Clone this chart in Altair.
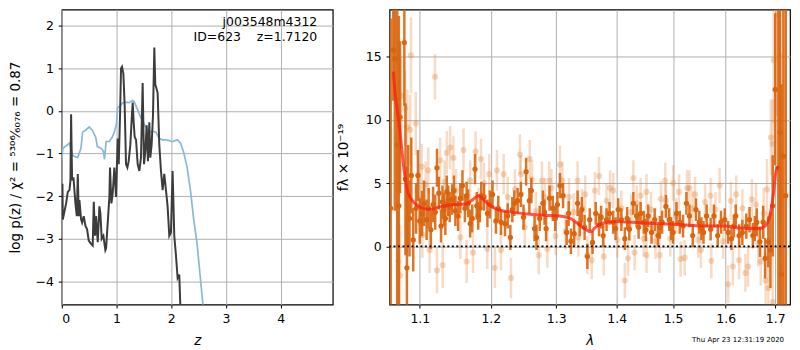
import altair as alt
import pandas as pd

# ---------------- left panel: log p(z) ----------------
blue_z = [0.0, 0.02, 0.08, 0.14, 0.2, 0.29, 0.35, 0.38, 0.44, 0.5, 0.56, 0.62, 0.65, 0.72, 0.76, 0.78,
          0.81, 0.87, 0.92, 0.96, 1.0, 1.02, 1.06, 1.11, 1.17, 1.23, 1.29, 1.32, 1.38, 1.44, 1.5, 1.55,
          1.6, 1.66, 1.72, 1.78, 1.84, 1.9, 1.96, 2.02, 2.07, 2.11, 2.17, 2.23, 2.29, 2.35, 2.41, 2.47,
          2.53, 2.59]
blue_v = [-1.15, -0.88, -0.82, -0.76, -1.05, -1.1, -0.88, -0.5, -0.45, -0.38, -0.46, -0.62, -0.84, -0.88,
          -0.95, -1.14, -0.72, -0.72, -0.62, -0.5, -0.3, 0.08, 0.1, 0.19, 0.2, 0.19, 0.24, 0.22, 0.04,
          -0.15, -0.3, -0.42, -0.5, -0.48, -0.5, -0.65, -0.68, -0.68, -0.7, -0.72, -0.7, -0.68, -0.76,
          -0.99, -1.33, -1.86, -2.55, -3.1, -3.9, -4.7]

dark_z = [0.012, 0.018, 0.079, 0.109, 0.140, 0.158, 0.170, 0.188, 0.213, 0.249, 0.274, 0.292, 0.310,
          0.322, 0.353, 0.371, 0.401, 0.432, 0.462, 0.492, 0.535, 0.565, 0.584, 0.608, 0.626, 0.657,
          0.687, 0.705, 0.729, 0.760, 0.796, 0.809, 0.839, 0.869, 0.881, 0.906, 0.930, 0.960, 0.991,
          1.021, 1.040, 1.064, 1.082, 1.100, 1.125, 1.149, 1.173, 1.198, 1.222, 1.252, 1.277, 1.295,
          1.313, 1.331, 1.356, 1.386, 1.416, 1.447, 1.477, 1.502, 1.526, 1.550, 1.574, 1.599, 1.617,
          1.641, 1.666, 1.690, 1.708, 1.720, 1.751, 1.781, 1.812, 1.842, 1.872, 1.903, 1.933, 1.964,
          1.994, 2.024, 2.055, 2.085, 2.116, 2.146, 2.164, 2.18]
dark_v = [-1.71, -2.55, -2.17, -1.90, -1.86, -1.63, -0.08, -1.63, -1.56, -2.17, -2.47, -1.48, -2.47,
          -2.09, -2.55, -2.62, -2.47, -2.70, -2.78, -3.04, -3.12, -3.16, -2.13, -2.93, -2.47, -3.08,
          -2.24, -2.40, -3.00, -2.93, -3.27, -3.23, -2.62, -2.02, -1.33, -2.17, -1.94, -1.33, -2.02,
          -0.65, -1.25, -0.11, 0.99, 1.03, 0.87, 0.11, -1.25, -1.33, -1.18, -0.80, -0.19, 0.19, -0.27,
          -0.61, -0.68, -1.25, -1.41, -1.10, 0.65, -1.25, -0.95, -0.34, -1.18, -0.27, -1.10, -0.80,
          -0.11, 1.48, 0.61, 0.57, 0.42, -0.80, -1.41, -1.86, -1.48, -1.86, -2.24, -2.93, -2.85, -1.41,
          -2.93, -3.38, -3.92, -3.84, -4.52, -5.3]

ann_z = [4.667, 4.667]
ann_v = [2.09, 1.74]
ann_text = ["j003548m4312", "ID=623\u00a0\u00a0\u00a0\u00a0z=1.7120"]

# ---------------- right panel: spectrum ----------------
dk_lam = [1.0615, 1.0649, 1.0669, 1.0700, 1.0721, 1.0737, 1.0794, 1.0809, 1.0828, 1.0845, 1.0862,
          1.0886, 1.0912, 1.0950, 1.0975, 1.1000, 1.1030, 1.1057, 1.1092, 1.1120, 1.1150, 1.1180,
          1.1210, 1.1234, 1.1260, 1.1290, 1.1310, 1.1330, 1.1350, 1.1370, 1.1390, 1.1410, 1.1445,
          1.1470, 1.1490, 1.1528, 1.1560, 1.1590, 1.1625, 1.1650, 1.1672, 1.1700, 1.1730, 1.1770,
          1.1795, 1.1815, 1.1840, 1.1860, 1.1900, 1.1950, 1.1985,
          1.2025, 1.2075, 1.2110, 1.2150, 1.2210, 1.2250, 1.2290, 1.2320, 1.2350, 1.2400, 1.2450,
          1.2490, 1.2530, 1.2580, 1.2610, 1.2660, 1.2690, 1.2740, 1.2790, 1.2815, 1.2840, 1.2895,
          1.2946, 1.2985, 1.3020, 1.3060, 1.3110, 1.3168, 1.3200, 1.3237, 1.3290, 1.3345, 1.3380,
          1.3415, 1.3460, 1.3506, 1.3545,
          1.3592, 1.3645, 1.3700, 1.3735, 1.3770, 1.3827, 1.3877, 1.3940, 1.3980, 1.4025, 1.4080,
          1.4140, 1.4180, 1.4218, 1.4288, 1.4346, 1.4380, 1.4416, 1.4474, 1.4510, 1.4550, 1.4610,
          1.4667, 1.4726, 1.4760, 1.4800, 1.4870, 1.4930, 1.4965, 1.5000, 1.5063, 1.5124, 1.5185,
          1.5248,
          1.5304, 1.5366, 1.5427, 1.5490, 1.5530, 1.5570, 1.5630, 1.5707, 1.5770, 1.5844, 1.5907,
          1.5980, 1.6047, 1.6112, 1.6160, 1.6197, 1.6264, 1.6329, 1.6408, 1.6473, 1.6540, 1.6580,
          1.6619, 1.6684, 1.6750, 1.6790, 1.6856, 1.6900, 1.6947, 1.7000, 1.7065, 1.7100, 1.7130,
          1.7170, 1.7220]
dk_f = [3.0, 15.5, 14.8, 8.0, 3.2, 10.2, 16.1, 5.3, -1.7, 4.0, 2.2,
        5.6, 0.5, 3.0, 5.6, 2.0, 2.6, 3.4, 2.1, 3.0, 1.3, 3.3,
        2.7, 6.2, 4.2, 1.6, 3.5, 2.9, 2.2, 4.3, 3.6, 3.1, 3.7,
        4.4, 2.8, 2.4, 3.8, 4.8, 3.0, 4.0, 3.4, 1.8, 2.2, 6.1,
        3.2, 2.4, 3.0, 4.0, 3.9, 2.6, 3.3,
        4.1, 2.0, 3.0, 1.9, 1.8, 2.4, 0.7, 2.9, 3.4, 3.6, 4.1,
        2.3, 5.9, 3.6, 4.4, 1.4, 0.7, 2.2, 3.4, 2.7, 1.4, 3.8,
        3.0, 2.2, 3.3, 4.8, 4.0, 1.1, 2.6, 0.4, 1.0, 3.4, 1.8,
        2.9, 1.5, -0.8, 2.1,
        0.3, 2.6, 1.7, 2.3, 0.85, 2.1, 2.6, 1.9, 1.4, 2.9, 2.1,
        0.6, 2.2, 1.35, 3.4, 2.4, 1.5, 2.6, 1.9, 1.3, 2.4, 1.1,
        2.1, 0.85, 1.5, 1.9, 3.15, 2.1, 1.4, 1.1, 2.6, 1.9, 1.6,
        3.4,
        2.4, 0.85, 2.9, 1.9, 1.4, 1.1, 2.4, 1.35, 2.4, 0.85, 1.9,
        2.1, 1.1, 0.6, 1.6, 2.4, 0.85, 1.1, 1.6, 2.1, 0.85, 1.4,
        1.9, 0.35, 1.9, -0.95, 0.35, -0.3, 3.2, 12.4, 6.2, 9.0, -2.2,
        7.1, 4.0]
dk_err = [15.0, 4.0, 12.0, 15.0, 15.0, 6.0, 5.0, 6.0, 8.0, 4.0, 3.0,
          3.0, 2.5, 2.0, 2.0, 1.8, 1.8, 1.8, 1.6, 1.6, 1.5, 1.4,
          1.4, 1.5, 1.3, 1.3, 1.3, 1.3, 1.3, 1.3, 1.2, 1.2, 1.2,
          1.2, 1.2, 1.2, 1.2, 1.2, 1.1, 1.1, 1.1, 1.1, 1.1, 1.2,
          1.1, 1.1, 1.1, 1.1, 1.1, 1.1, 1.1,
          1.1, 1.0, 1.0, 1.0, 1.0, 1.0, 1.0, 1.0, 1.0, 1.0, 1.0,
          1.0, 1.1, 1.0, 1.0, 1.0, 1.0, 1.0, 1.0, 1.0, 1.0, 1.0,
          1.0, 1.0, 1.0, 1.0, 1.0, 1.0, 1.0, 1.0, 1.0, 1.0, 1.0,
          1.0, 1.0, 1.0, 0.9,
          0.9, 0.9, 0.9, 0.9, 0.9, 0.9, 0.9, 0.9, 0.9, 0.9, 0.9,
          0.9, 0.9, 0.9, 0.9, 0.9, 0.9, 0.9, 0.9, 0.9, 0.9, 0.9,
          0.9, 0.9, 0.9, 0.9, 0.9, 0.9, 0.9, 0.9, 0.9, 0.9, 0.9,
          0.9,
          0.9, 0.9, 0.9, 0.9, 0.9, 0.9, 0.9, 0.9, 0.9, 0.9, 0.9,
          0.9, 0.9, 0.9, 0.9, 0.9, 0.9, 1.0, 1.0, 1.0, 1.0, 1.0,
          1.1, 1.2, 1.3, 1.6, 2.0, 3.0, 4.0, 6.0, 15.0, 15.0, 15.0,
          15.0, 15.0]

lt_lam = [1.0700, 1.0717, 1.0737, 1.0753, 1.0806, 1.0834, 1.0872, 1.0882, 1.0946, 1.0990,
          1.1026, 1.1035, 1.1080, 1.1115, 1.1133, 1.1207, 1.1234, 1.1278, 1.1313, 1.1340, 1.1371,
          1.1417, 1.1462, 1.1500, 1.1560, 1.1605, 1.1650, 1.1700, 1.1741, 1.1778, 1.1820, 1.1856,
          1.1900, 1.1948, 1.1975, 1.2060, 1.2090, 1.2150, 1.2190, 1.2250, 1.2300, 1.2360, 1.2435,
          1.2450, 1.2510, 1.2585, 1.2620, 1.2680, 1.2725, 1.2775, 1.2820, 1.2860, 1.2890, 1.2925,
          1.2990, 1.3060, 1.3100, 1.3150, 1.3205, 1.3280, 1.3345, 1.3360, 1.3420, 1.3470, 1.3506,
          1.3577, 1.3630, 1.3700, 1.3780, 1.3827, 1.3887, 1.3940, 1.4010, 1.4080, 1.4140, 1.4195,
          1.4250, 1.4288, 1.4310, 1.4346, 1.4416, 1.4470, 1.4520, 1.4520, 1.4600, 1.4680, 1.4755,
          1.4780, 1.4857, 1.4870, 1.4950, 1.5000, 1.5060, 1.5110, 1.5140, 1.5215, 1.5260, 1.5304,
          1.5360, 1.5410, 1.5470, 1.5520, 1.5600, 1.5707, 1.5720, 1.5800, 1.5880, 1.5950, 1.6047,
          1.6100, 1.6140, 1.6205, 1.6264, 1.6330, 1.6390, 1.6443, 1.6520, 1.6606, 1.6650, 1.6700,
          1.6760, 1.6800, 1.6830, 1.6856, 1.6910, 1.6947, 1.6947, 1.6966, 1.7032, 1.7097, 1.7120]
lt_f = [10.5, -1.2, -2.3, 11.9, 10.9, 9.4, 9.2, 15.1, 9.7, 3.8,
        6.3, 0.9, 4.9, 6.0, -0.3, 13.4, -1.9, 6.8, -1.5, 5.1, 7.4,
        7.8, 7.0, 4.4, 0.7, 7.6, -1.2, 5.2, -0.5, 7.5, 3.0, 6.9,
        5.0, -0.2, 5.7, -1.7, 6.0, -0.3, 5.7, 3.9, -2.5, 4.5, 7.25,
        5.7, 1.5, 6.9, 5.3, 2.8, -0.7, 5.2, 3.9, -0.2, 5.2, 4.6,
        0.8, 6.45, 5.2, 1.2, 3.9, 2.7, 5.2, 0.7, 3.0, 4.1, -0.7,
        -1.1, 4.4, 5.55, -0.8, 3.6, 4.6, 4.4, 0.5, 3.0, -2.7, -0.95,
        2.7, 5.4, -0.5, 3.4, 4.0, 0.6, 4.3, -0.7, 2.9, 0.4, -0.7,
        3.75, 5.2, 3.6, 0.6, 5.0, 2.4, 4.3, -1.0, -0.9, 4.6, 4.6,
        3.0, 4.1, 0.5, -0.3, 3.5, 4.0, -1.15, 2.9, 4.8, 0.4, -3.0,
        3.6, -1.6, 4.1, -1.1, 3.0, -2.1, -1.6, 3.7, 3.3, 0.2, -1.2,
        2.6, -2.7, 4.5, -3.3, 8.6, 8.1, -4.4, 14.7, 18.3, 9.8, 7.3]
lt_err = [6.0, 4.0, 4.0, 3.0, 3.0, 3.0, 2.8, 3.0, 2.5, 2.2,
          1.8, 1.8, 1.8, 1.8, 1.8, 1.8, 1.8, 1.8, 1.8, 1.7, 1.7,
          1.7, 1.7, 1.7, 1.7, 1.7, 1.7, 1.6, 1.6, 1.6, 1.6, 1.6,
          1.6, 1.6, 1.6, 1.6, 1.6, 1.6, 1.6, 1.6, 1.6, 1.6, 1.6,
          1.5, 1.5, 1.5, 1.5, 1.5, 1.5, 1.5, 1.5, 1.5, 1.5, 1.5,
          1.5, 1.5, 1.5, 1.5, 1.5, 1.5, 1.5, 1.5, 1.5, 1.5, 1.5,
          1.5, 1.5, 1.5, 1.5, 1.4, 1.4, 1.4, 1.4, 1.4, 1.4, 1.4,
          1.4, 1.4, 1.4, 1.4, 1.4, 1.4, 1.4, 1.4, 1.4, 1.4, 1.4,
          1.4, 1.4, 1.4, 1.4, 1.4, 1.4, 1.4, 1.4, 1.4, 1.4, 1.4,
          1.4, 1.4, 1.4, 1.4, 1.4, 1.4, 1.4, 1.4, 1.4, 1.4, 1.5,
          1.5, 1.5, 1.5, 1.5, 1.5, 1.5, 1.6, 1.6, 1.7, 1.8, 1.9,
          2.0, 2.2, 2.4, 2.6, 3.0, 3.5, 4.0, 5.0, 8.0, 8.0, 8.0]

model_lam = [1.0650, 1.0672, 1.0717, 1.0755, 1.0791, 1.0834, 1.0889, 1.0986, 1.1130, 1.1266, 1.1457,
             1.1646, 1.1740, 1.1820, 1.1880, 1.1970, 1.2100, 1.2300, 1.2550, 1.2796, 1.3048, 1.3210,
             1.3320, 1.3453, 1.3560, 1.3640, 1.3750, 1.3960, 1.4430, 1.5010, 1.5630, 1.6000, 1.6260,
             1.6653, 1.6790, 1.6887, 1.6954, 1.7020, 1.7066]
model_f = [13.8, 12.1, 10.1, 8.0, 6.0, 4.4, 3.7, 3.15, 2.9, 3.1, 3.3,
           3.35, 3.7, 4.0, 3.75, 3.3, 2.9, 2.7, 2.55, 2.45, 2.4, 2.25,
           1.9, 1.4, 1.15, 1.5, 1.8, 1.95, 1.85, 1.75, 1.6, 1.6, 1.45,
           1.4, 1.6, 2.4, 3.9, 6.0, 6.3]

stamp = "Thu Apr 23 12:31:19 2020"

FONT = "DejaVu Sans"
GRID = "#b0b0b0"
DARK_OR = "#d9650e"
LIGHT_OR = "#e27d2d"
PLOT_H = 296

# ---------- left chart ----------
zx = alt.Scale(domain=[0, 4.95], nice=False, zero=False)
zy = alt.Scale(domain=[-4.54, 2.37], nice=False, zero=False)
xaxL = alt.Axis(values=[0, 1, 2, 3, 4], format="d", title="z", titleFontStyle="italic")
yaxL = alt.Axis(values=[-4, -3, -2, -1, 0, 1, 2], format="d",
                title="log p(z) / χ² = ⁵³⁰⁶⁄₆₀₇₆ = 0.87", titlePadding=14,
                minExtent=25, maxExtent=25)

blue_df = pd.DataFrame({"z": blue_z, "v": blue_v})
dark_df = pd.DataFrame({"z": dark_z, "v": dark_v})
ann_df = pd.DataFrame({"z": ann_z, "v": ann_v, "t": ann_text})

blue_line = alt.Chart(blue_df).mark_line(color="#88b8da", strokeWidth=1.7, clip=True).encode(
    x=alt.X("z:Q", scale=zx, axis=xaxL), y=alt.Y("v:Q", scale=zy, axis=yaxL))
dark_line = alt.Chart(dark_df).mark_line(color="#3c3c3c", strokeWidth=2.0, clip=True).encode(
    x=alt.X("z:Q", scale=zx, axis=xaxL), y=alt.Y("v:Q", scale=zy, axis=yaxL))
ann = alt.Chart(ann_df).mark_text(align="right", baseline="middle", fontSize=12.5, font=FONT,
                                  color="black").encode(
    x=alt.X("z:Q", scale=zx), y=alt.Y("v:Q", scale=zy), text="t:N")

left = alt.layer(blue_line, dark_line, ann).properties(width=272, height=PLOT_H)

# ---------- right chart ----------
lx = alt.Scale(type="log", domain=[1.060, 1.731], nice=False, zero=False)
ly = alt.Scale(domain=[-4.6, 18.7], nice=False, zero=False)
xaxR = alt.Axis(values=[1.1, 1.2, 1.3, 1.4, 1.5, 1.6, 1.7], format=".1f", title="λ",
                titleFontStyle="italic")
yaxR = alt.Axis(values=[0, 5, 10, 15], format="d", title="fλ × 10⁻¹⁹", titlePadding=14,
                minExtent=25, maxExtent=25)

dk_df = pd.DataFrame({"lam": dk_lam, "f": dk_f, "err": dk_err})
dk_df["lo"] = dk_df["f"] - dk_df["err"]
dk_df["hi"] = dk_df["f"] + dk_df["err"]
lt_df = pd.DataFrame({"lam": lt_lam, "f": lt_f, "err": lt_err})
lt_df["lo"] = lt_df["f"] - lt_df["err"]
lt_df["hi"] = lt_df["f"] + lt_df["err"]
model_df = pd.DataFrame({"lam": model_lam, "f": model_f})

X = alt.X("lam:Q", scale=lx, axis=xaxR)
lt_bars = alt.Chart(lt_df).mark_rule(color=LIGHT_OR, opacity=0.28, strokeWidth=2.5, clip=True).encode(
    x=X, y=alt.Y("lo:Q", scale=ly, axis=yaxR), y2="hi:Q")
lt_pts = alt.Chart(lt_df).mark_circle(color=LIGHT_OR, opacity=0.3, size=38, clip=True).encode(
    x=X, y=alt.Y("f:Q", scale=ly, axis=yaxR))
dk_bars = alt.Chart(dk_df).mark_rule(color=DARK_OR, opacity=0.9, strokeWidth=2.5, clip=True).encode(
    x=X, y=alt.Y("lo:Q", scale=ly, axis=yaxR), y2="hi:Q")
dk_pts = alt.Chart(dk_df).mark_circle(color=DARK_OR, opacity=1, size=28, clip=True).encode(
    x=X, y=alt.Y("f:Q", scale=ly, axis=yaxR))
zero = alt.Chart(pd.DataFrame({"y": [0]})).mark_rule(color="black", strokeWidth=1.8,
                                                      strokeDash=[2, 2.5]).encode(
    y=alt.Y("y:Q", scale=ly, axis=yaxR))
model = alt.Chart(model_df).mark_line(color="#ff1f10", opacity=0.75, strokeWidth=3,
                                      interpolate="monotone", clip=True).encode(
    x=X, y=alt.Y("f:Q", scale=ly, axis=yaxR))
stamp_t = alt.Chart(pd.DataFrame({"t": [stamp]})).mark_text(
    align="right", baseline="middle", fontSize=7, font=FONT, color="black").encode(
    x=alt.value(396), y=alt.value(332), text="t:N")

right = alt.layer(lt_bars, lt_pts, dk_bars, dk_pts, zero, model, stamp_t).properties(
    width=402, height=PLOT_H)

chart = alt.hconcat(left, right, spacing=2).properties(
    padding={"left": 0, "top": 0, "right": 0, "bottom": 0}
).configure(font=FONT).configure_axis(
    grid=True, gridColor=GRID, gridOpacity=1, gridWidth=1,
    domain=False, ticks=True, tickSize=3.5, tickColor="black", tickWidth=1,
    labelFont=FONT, labelFontSize=12.5, labelColor="black", labelPadding=5,
    titleFont=FONT, titleFontSize=13.5, titleColor="black", titleFontWeight="normal",
).configure_axisX(titlePadding=8).configure_view(stroke="black", strokeWidth=1.2)

chart.save("out.html", embed_options={"renderer": "svg", "actions": False})
